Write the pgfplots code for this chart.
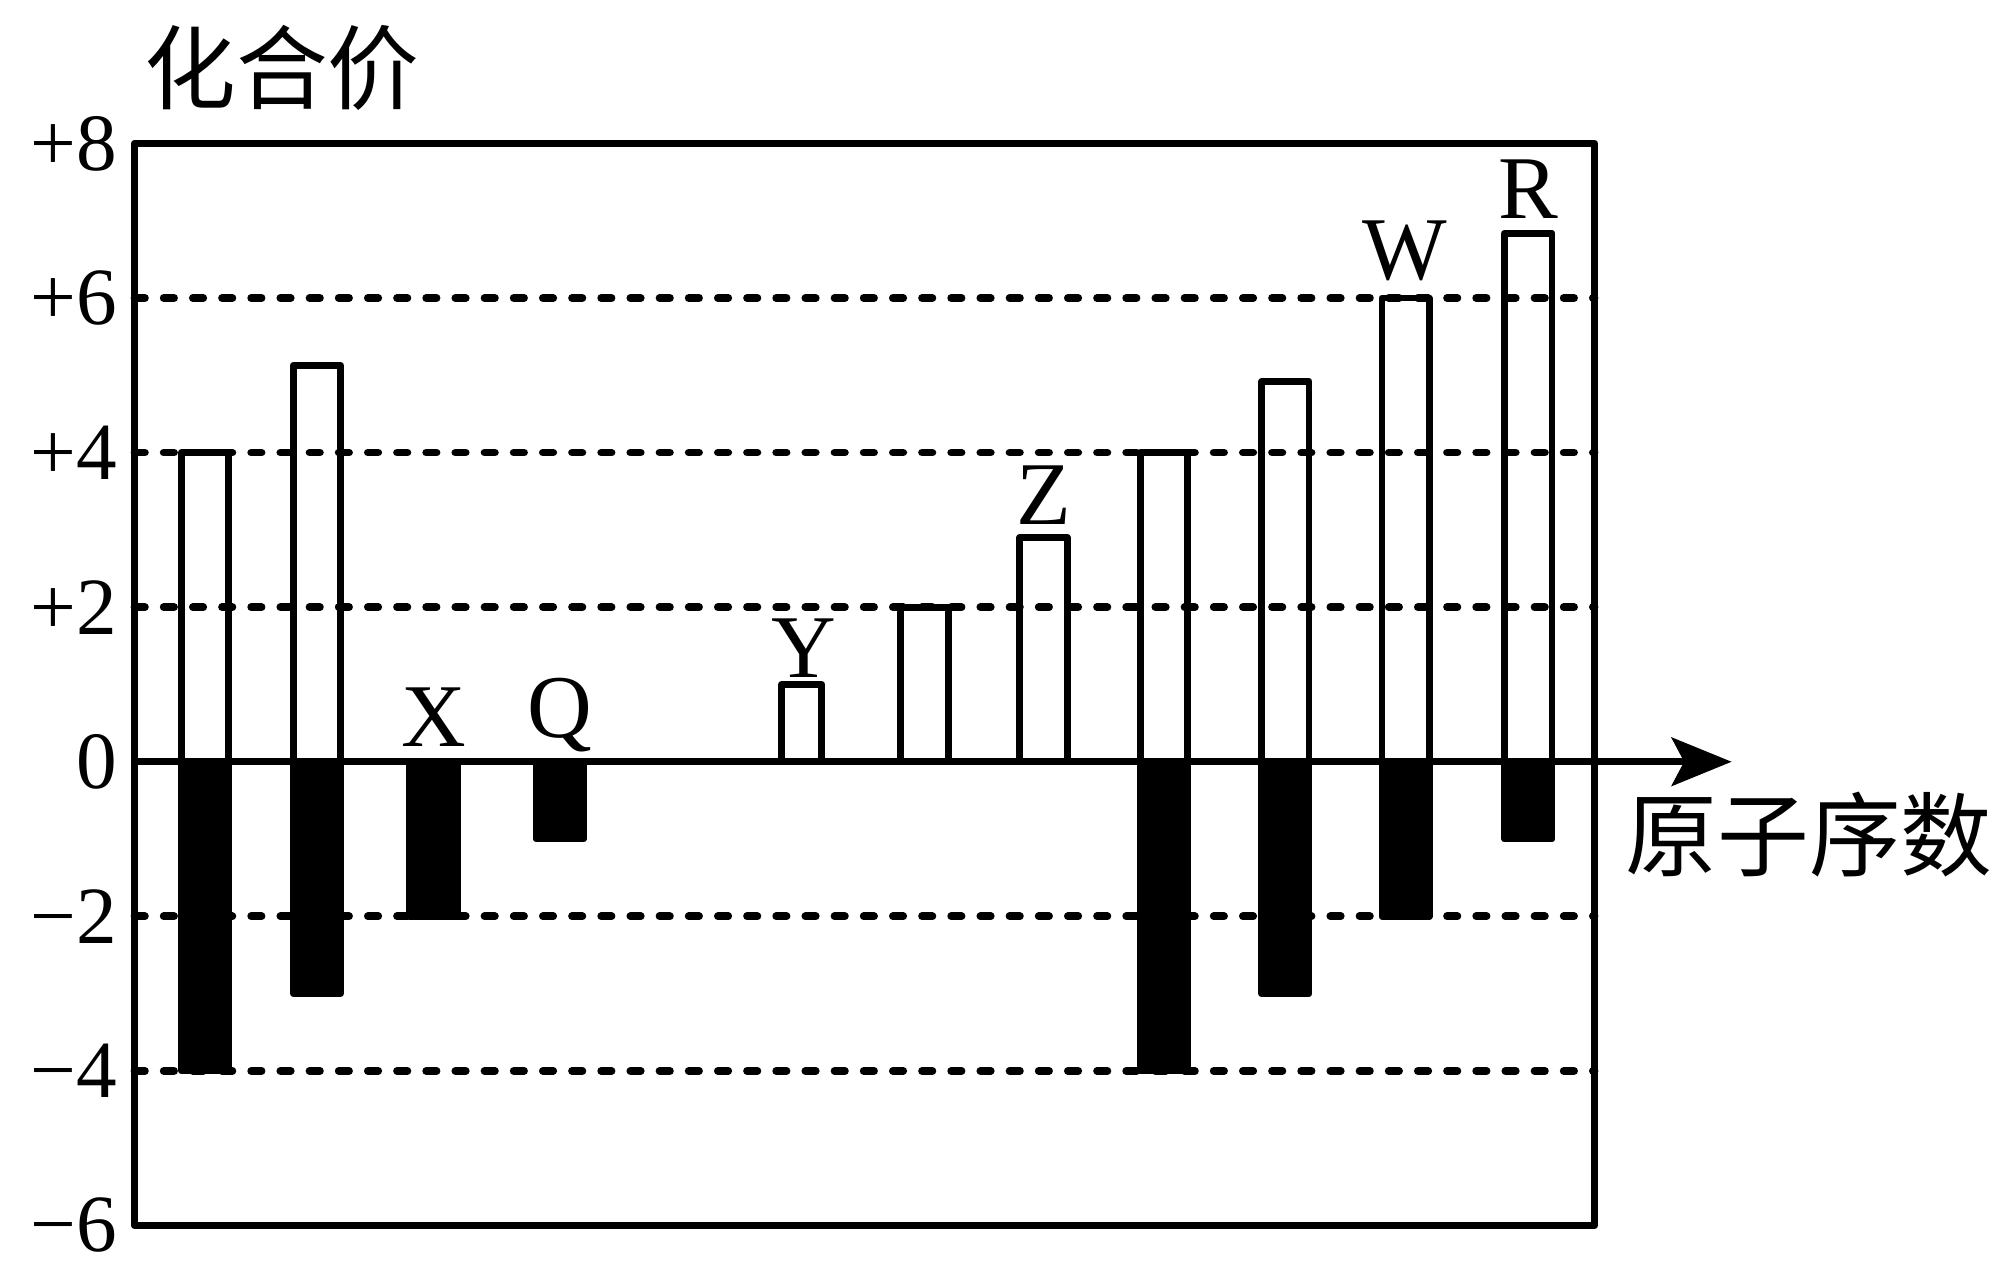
\documentclass[border=0pt]{standalone}
\usepackage{fontspec}
\setmainfont{Liberation Serif}
\newfontfamily\cjk{Noto Sans CJK SC}
\usepackage{pgfplots}
\pgfplotsset{compat=1.18}
\usetikzlibrary{arrows.meta}
\begin{document}
\begin{tikzpicture}
\path[use as bounding box] (-32.28pt,-13.08pt) rectangle (450.12pt,294.12pt);
\begin{axis}[
  at={(0,0)}, anchor=south west,
  scale only axis, width=350.4pt, height=259.68pt,
  xmin=5.414, xmax=17.55, ymin=-6, ymax=8,
  xtick=\empty,
  ytick={-6,-4,-2,0,2,4,6,8},
  yticklabels={−6,−4,−2,0,+2,+4,+6,+8},
  yticklabel style={font=\fontsize{19.5}{20}\selectfont, inner sep=0pt, anchor=east},
  yticklabel shift=4pt,
  major tick length=0pt,
  extra y ticks={-4,-2,2,4,6},
  extra y tick labels={},
  extra y tick style={ymajorgrids=true},
  major grid style={black, line width=1.85pt, line cap=round, dash pattern=on 2.5pt off 4.5pt},
  axis line style={line width=1.75pt, line join=round},
  clip=false,
]
% positive valences (hollow bars)
\addplot[ybar, bar width=11.35pt, bar shift=0pt, draw=black, fill=none, line width=1.65pt, line join=round]
  coordinates {(6.00,4) (6.93,5.13) (11.98,2) (12.97,2.9) (13.97,4) (14.98,4.92) (15.98,6) (17.0,6.84)};
\addplot[ybar, bar width=9.7pt, bar shift=0pt, draw=black, fill=none, line width=1.65pt, line join=round]
  coordinates {(10.96,1)};
% negative valences (filled bars)
\addplot[ybar, bar width=11.35pt, bar shift=0pt, draw=black, fill=black, line width=1.65pt, line join=round]
  coordinates {(6.00,-4) (6.93,-3) (7.90,-2) (8.95,-1) (13.97,-4) (14.98,-3) (15.98,-2) (17.0,-1)};
% x axis with arrow
\draw[line width=1.75pt, -{Stealth[length=14.4pt, width=11.6pt, inset=3pt]}] (axis cs:5.414,0) -- (axis cs:18.69,0);
% element letters
\node[anchor=base, inner sep=0pt, font=\fontsize{21.5}{22}\selectfont] at (axis cs:7.90,0.2) {X};
\node[anchor=base, inner sep=0pt, font=\fontsize{21.5}{22}\selectfont] at (axis cs:8.95,0.32) {Q};
\node[anchor=base, inner sep=0pt, font=\fontsize{21.5}{22}\selectfont] at (axis cs:10.98,1.09) {Y};
\node[anchor=base, inner sep=0pt, font=\fontsize{21.5}{22}\selectfont] at (axis cs:12.97,3.07) {Z};
\node[anchor=base, inner sep=0pt, font=\fontsize{21.5}{22}\selectfont] at (axis cs:15.97,6.235) {W};
\node[anchor=base, inner sep=0pt, font=\fontsize{21.5}{22}\selectfont] at (axis cs:17.0,7.03) {R};
% axis titles
\node[anchor=west, inner sep=0pt, font=\cjk\fontsize{22}{22}\selectfont] at ([xshift=2.2pt,yshift=18.1pt]rel axis cs:0,1) {化合价};
\node[anchor=west, inner sep=0pt, font=\cjk\fontsize{22}{22}\selectfont] at ([xshift=7.3pt,yshift=-17.4pt]axis cs:17.55,0) {原子序数};
\end{axis}
\end{tikzpicture}
\end{document}
